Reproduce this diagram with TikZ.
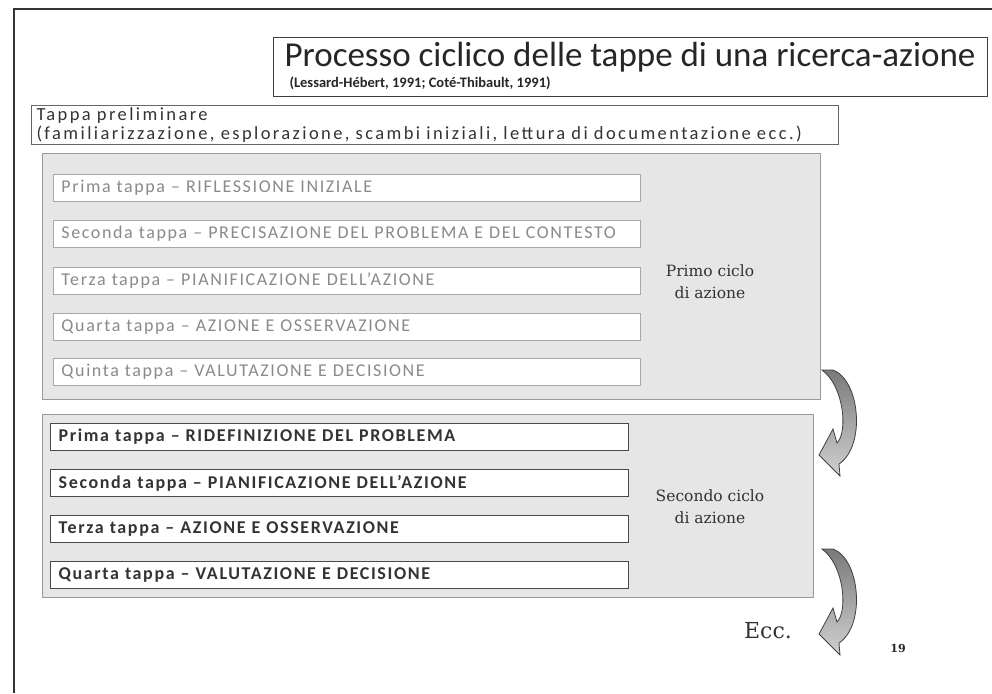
\documentclass[tikz,border=0pt]{standalone}
\usepackage{fontspec}
\setmainfont{Carlito}
\newfontfamily\spaced[LetterSpace=9]{Carlito}
\newfontfamily\wider[LetterSpace=13]{Carlito}
\newfontfamily\ciclofont{DejaVu Serif}
\usepackage{tikz}

\definecolor{ciclofill}{HTML}{E6E6E6}
\definecolor{ciclobordo}{HTML}{9A9A9A}
\definecolor{paletext}{HTML}{8A8A8A}
\definecolor{palebordo}{HTML}{A8A8A8}
\definecolor{darktext}{HTML}{333333}
\definecolor{darkbordo}{HTML}{4A4A4A}
\definecolor{arrowdark}{HTML}{7A7A7A}
\definecolor{arrowlight}{HTML}{D0D0D0}

\tikzset{giro/.pic={
  \draw[draw=black!75, line width=0.8pt, top color=arrowdark, bottom color=arrowlight]
    (0,0) -- (11,0) .. controls (38,10) and (44,76) .. (17,94) -- (18,106) -- (-3,85)
    -- (11,59) -- (15,73) .. controls (26,62) and (22,16) .. (0,0) -- cycle;
}}

\begin{document}
\begin{tikzpicture}[x=1pt, y=-1pt,
    ciclo/.style={draw=ciclobordo, fill=ciclofill, line width=1pt, anchor=north west},
    primo/.style={draw=palebordo, fill=white, text=paletext, line width=0.9pt, anchor=west,
      minimum height=27pt, text width=571pt, inner xsep=8pt, align=left,
      font=\spaced\fontsize{18}{20}\selectfont},
    secondo/.style={primo, draw=darkbordo, text=darktext, line width=1.4pt, text width=562pt,
      font=\spaced\bfseries\fontsize{18}{20}\selectfont},
    etichetta/.style={align=center, text=black!80, font=\ciclofont\fontsize{15.5}{22}\selectfont}]
        \useasboundingbox (0,0) rectangle (992,693);
        \draw[line width=1.2pt, black!80] (992,9) -- (14,9) -- (14,693);

        \node[draw=black!75, line width=1.3pt, minimum width=714pt, minimum height=59pt, anchor=north west] (titolo) at (273,37) {};
        \node[text=black!85, font=\fontsize{35}{38}\selectfont] (titoloTxt) at (630,57) {Processo ciclico delle tappe di una ricerca-azione};
        \node[anchor=west, text=black!85, font=\bfseries\fontsize{14.5}{16}\selectfont] (fonti) at (286,83) {(Lessard-Hébert, 1991; Coté-Thibault, 1991)};

        \node[draw=black!60, line width=1pt, anchor=north west, text width=797pt, inner xsep=5pt, inner ysep=2pt, align=left,
          text=darktext, font=\wider\fontsize{18.5}{19}\selectfont] (prelim) at (31,105)
          {Tappa preliminare\\(familiarizzazione, esplorazione, scambi iniziali, lettura di documentazione ecc.)};

        \node[ciclo, minimum width=778pt, minimum height=246pt] (ciclo1) at (42,153) {};
        \node[primo] (p1) at (53,188) {Prima tappa – RIFLESSIONE INIZIALE};
        \node[primo] (p2) at (53,234) {Seconda tappa – PRECISAZIONE DEL PROBLEMA E DEL CONTESTO};
        \node[primo] (p3) at (53,281) {Terza tappa – PIANIFICAZIONE DELL’AZIONE};
        \node[primo] (p4) at (53,327) {Quarta tappa – AZIONE E OSSERVAZIONE};
        \node[primo] (p5) at (53,372) {Quinta tappa – VALUTAZIONE E DECISIONE};
        \node[etichetta] (primoCiclo) at (710,282) {Primo ciclo\\di azione};

        \node[ciclo, minimum width=771pt, minimum height=183pt] (ciclo2) at (42,414) {};
        \node[secondo] (s1) at (50,437) {Prima tappa – RIDEFINIZIONE DEL PROBLEMA};
        \node[secondo] (s2) at (50,483) {Seconda tappa – PIANIFICAZIONE DELL’AZIONE};
        \node[secondo] (s3) at (50,529) {Terza tappa – AZIONE E OSSERVAZIONE};
        \node[secondo] (s4) at (50,575) {Quarta tappa – VALUTAZIONE E DECISIONE};
        \node[etichetta] (secondoCiclo) at (710,507) {Secondo ciclo\\di azione};

        \pic (giro1) at (822,370) {giro};
        \pic (giro2) at (822,549) {giro};

        \node[text=black!80, font=\ciclofont\fontsize{22}{24}\selectfont] (ecc) at (768,631) {Ecc.};
        \node[text=black!85, font=\ciclofont\bfseries\fontsize{11}{12}\selectfont] (pagina) at (898,648) {19};
\end{tikzpicture}
\end{document}
